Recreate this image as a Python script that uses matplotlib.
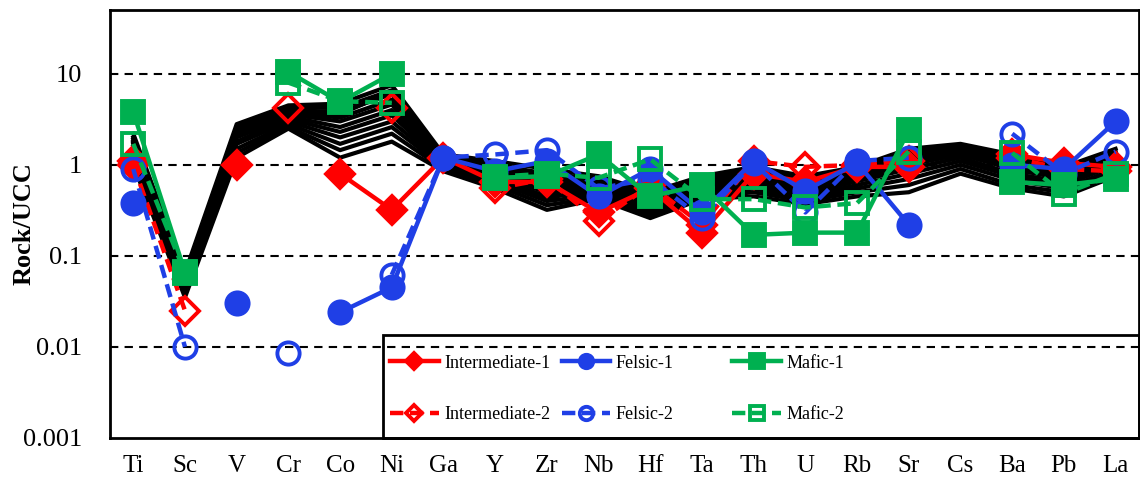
import numpy as np
import matplotlib
matplotlib.use("Agg")
import matplotlib.pyplot as plt
from matplotlib.patches import Rectangle
from matplotlib.legend import Legend

nan = np.nan

# element order on the x axis
elements = ["Ti", "Sc", "V", "Cr", "Co", "Ni", "Ga", "Y", "Zr", "Nb",
            "Hf", "Ta", "Th", "U", "Rb", "Sr", "Cs", "Ba", "Pb", "La"]

# background samples (black band)
samples = [
    [2.2, 0.065, 2.8, 4.5, 4.7, 7.5, 1.3, 1.1, 0.9, 0.75, 0.5, 0.75, 0.95, 0.75, 0.95, 1.5, 1.7, 1.3, 0.95, 1.5],
    [2.0, 0.060, 2.6, 4.3, 4.2, 6.6, 1.25, 1.0, 0.8, 0.7, 0.46, 0.7, 0.9, 0.7, 0.9, 1.4, 1.6, 1.2, 0.9, 1.4],
    [1.9, 0.058, 2.4, 4.0, 3.8, 6.0, 1.2, 0.95, 0.72, 0.66, 0.43, 0.66, 0.85, 0.65, 0.85, 1.3, 1.5, 1.1, 0.85, 1.35],
    [1.8, 0.055, 2.3, 3.8, 3.3, 5.2, 1.15, 0.9, 0.65, 0.62, 0.4, 0.62, 0.8, 0.6, 0.8, 1.2, 1.45, 1.0, 0.8, 1.3],
    [1.75, 0.050, 2.5, 3.9, 3.6, 6.4, 1.1, 0.7, 0.42, 0.6, 0.3, 0.68, 0.72, 0.62, 0.72, 1.25, 1.55, 0.85, 0.78, 1.25],
    [1.7, 0.052, 2.1, 3.6, 3.0, 4.6, 1.1, 0.85, 0.6, 0.58, 0.37, 0.6, 0.75, 0.56, 0.75, 1.1, 1.35, 0.95, 0.75, 1.2],
    [1.6, 0.050, 2.0, 3.4, 2.6, 4.0, 1.08, 0.8, 0.55, 0.55, 0.35, 0.56, 0.7, 0.52, 0.7, 1.0, 1.3, 0.9, 0.7, 1.15],
    [1.5, 0.047, 1.8, 3.2, 2.3, 3.5, 1.05, 0.75, 0.5, 0.52, 0.33, 0.53, 0.65, 0.48, 0.66, 0.9, 1.2, 0.8, 0.65, 1.1],
    [1.4, 0.045, 1.7, 3.0, 2.0, 3.0, 1.0, 0.7, 0.45, 0.5, 0.31, 0.5, 0.6, 0.45, 0.6, 0.8, 1.1, 0.75, 0.6, 1.0],
    [1.3, 0.042, 1.5, 2.8, 1.7, 2.6, 0.95, 0.65, 0.4, 0.47, 0.29, 0.47, 0.55, 0.42, 0.55, 0.7, 1.0, 0.68, 0.55, 0.9],
    [1.15, 0.039, 1.35, 2.6, 1.45, 2.2, 0.9, 0.6, 0.36, 0.44, 0.27, 0.44, 0.5, 0.4, 0.5, 0.6, 0.9, 0.6, 0.5, 0.82],
    [1.0, 0.035, 1.2, 2.5, 1.2, 1.8, 0.85, 0.55, 0.32, 0.42, 0.26, 0.42, 0.45, 0.37, 0.45, 0.5, 0.8, 0.55, 0.45, 0.75],
]

# highlighted series
intermediate_1 = [1.1, nan, 1.0, nan, 0.8, 0.32, 1.2, 0.65, 0.65, 0.3, 0.55, 0.18, 0.8, 0.65, 0.95, 0.95, nan, 1.3, 1.05, 0.95]
intermediate_2 = [1.0, 0.025, nan, 4.2, nan, 4.2, nan, 0.55, 0.7, 0.24, 0.6, 0.22, 1.1, 0.95, 1.0, 1.1, nan, 1.2, 0.9, 0.85]
felsic_1 = [0.38, nan, 0.03, nan, 0.024, 0.045, 1.2, 0.85, 1.1, 0.45, 0.9, 0.3, 1.1, 0.52, 1.05, 0.22, nan, 1.0, 0.9, 3.0]
felsic_2 = [0.9, 0.01, nan, 0.0085, nan, 0.062, 1.2, 1.3, 1.45, 0.55, 0.7, 0.26, 1.05, 0.3, 1.1, 1.2, nan, 2.2, 0.8, 1.4]
mafic_1 = [3.8, 0.066, nan, 10.5, 4.9, 10.0, nan, 0.72, 0.75, 1.3, 0.45, 0.6, 0.17, 0.18, 0.18, 2.4, nan, 0.65, 0.6, 0.7]
mafic_2 = [1.7, 0.065, nan, 8.0, 5.0, 4.8, nan, 0.74, 0.8, 0.72, 1.15, 0.42, 0.42, 0.34, 0.38, 1.4, nan, 1.35, 0.48, 0.8]

RED = "#FF0000"
BLUE = "#1F3FE6"
GREEN = "#00B050"

plt.rcParams["font.family"] = ["Liberation Serif", "DejaVu Serif"]

fig = plt.figure(figsize=(11.4, 4.86), dpi=100)
ax = fig.add_axes([0.0965, 0.099, 0.9025, 0.880])

x = np.arange(len(elements))

# black band of samples
for s in samples:
    ax.plot(x, s, color="black", lw=3.0, zorder=2)

dash = (0, (3, 1.5))
series = [
    ("Intermediate-1", intermediate_1, RED, "-", "D", RED),
    ("Intermediate-2", intermediate_2, RED, dash, "D", "none"),
    ("Felsic-1", felsic_1, BLUE, "-", "o", BLUE),
    ("Felsic-2", felsic_2, BLUE, dash, "o", "none"),
    ("Mafic-1", mafic_1, GREEN, "-", "s", GREEN),
    ("Mafic-2", mafic_2, GREEN, dash, "s", "none"),
]

handles = []
for name, vals, col, ls, mk, fc in series:
    ms = 14 if mk == "D" else 16
    h, = ax.plot(x, vals, color=col, ls=ls, lw=3.2, marker=mk, ms=ms,
                 mfc=fc, mec=col, mew=2.8, label=name, zorder=3)
    handles.append(h)

ax.set_yscale("log")
ax.set_ylim(0.001, 50)
ax.set_xlim(-0.45, 19.45)

for v in [0.01, 0.1, 1, 10]:
    ax.axhline(v, color="black", ls=(0, (4, 3)), lw=1.5, zorder=1)

ax.set_yticks([0.001, 0.01, 0.1, 1, 10])
ax.set_yticklabels(["0.001", "0.01", "0.1", "1", "10"])
ax.minorticks_off()
ax.set_xticks(x)
ax.set_xticklabels(elements)
ax.tick_params(axis="y", length=0, pad=20, labelsize=19)
ax.tick_params(axis="x", length=0, pad=12, labelsize=18)
ax.set_ylabel("Rock/UCC", fontsize=19, fontweight="bold")
ax.yaxis.set_label_coords(-0.072, 0.5)

for sp in ax.spines.values():
    sp.set_linewidth(2)

# legend box and entries, one legend per column
ax.add_patch(Rectangle((0.265, 0.0), 0.735, 0.24, transform=ax.transAxes,
                       fill=False, ec="black", lw=2, zorder=5, clip_on=False))
col_x = [0.272, 0.439, 0.605]
for i, cx in enumerate(col_x):
    pair = handles[2 * i:2 * i + 2]
    leg = Legend(ax, pair, [h.get_label() for h in pair], loc="center left",
                 bbox_to_anchor=(cx, 0.115), frameon=False, fontsize=13,
                 markerscale=0.6, handlelength=2.7, labelspacing=1.9,
                 handletextpad=0.3, borderpad=0, borderaxespad=0)
    ax.add_artist(leg)

fig.savefig("out.png", dpi=100)
